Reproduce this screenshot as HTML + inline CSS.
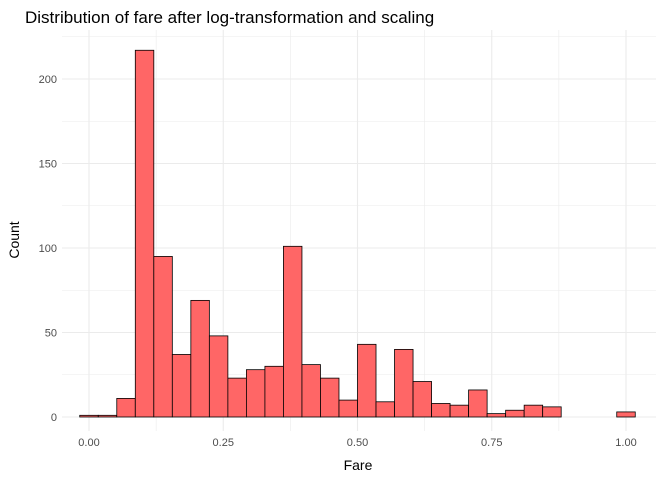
<!DOCTYPE html>
<html><head><meta charset="utf-8"><style>
body{margin:0;background:#fff;}
svg{display:block;font-family:"Liberation Sans",sans-serif;}
</style></head><body>
<svg id="chart" width="672" height="480">
<text x="25" y="23" font-size="17" fill="#000">Distribution of fare after log-transformation and scaling</text>
<g id="grid"></g><g id="bars"></g><g id="ticks"></g>
<text x="358" y="470" font-size="14" text-anchor="middle" fill="#000">Fare</text>
<text transform="translate(19,240) rotate(-90)" font-size="14" text-anchor="middle" fill="#000">Count</text>
</svg>
<script>
const counts=[1,1,11,217,95,37,69,48,23,28,30,101,31,23,10,43,9,40,21,8,7,16,2,4,7,6,0,0,0,3];
const xTicks=[0,0.25,0.5,0.75,1];
const xTickLabels=["0.00","0.25","0.50","0.75","1.00"];
const yTicks=[0,50,100,150,200];
const ns="http://www.w3.org/2000/svg";
const X=v=>89+v*537, Y=v=>417-v*1.69;
const L=62,R=656,T=30,B=431;
function mk(t,a,p){const e=document.createElementNS(ns,t);for(const k in a)e.setAttribute(k,a[k]);p.appendChild(e);return e;}
const grid=document.getElementById('grid'),bars=document.getElementById('bars'),ticks=document.getElementById('ticks');
for(let v=0;v<=225;v+=25){const l=mk('line',{x1:L,x2:R,y1:Y(v),y2:Y(v),stroke:'#ebebeb','stroke-width':v%50?0.6:1.1},grid);
}
for(let v=0;v<=1.01;v+=0.125){const l=mk('line',{x1:X(v),x2:X(v),y1:T,y2:B,stroke:'#ebebeb','stroke-width':Math.abs(v*4-Math.round(v*4))>0.01?0.6:1.1},grid);
}
const bw=1/(counts.length-1);
counts.forEach((c,i)=>{const x0=X(i*bw-bw/2),x1=X(i*bw+bw/2);
const r=mk('rect',{x:x0,y:Y(c),width:x1-x0,height:Y(0)-Y(c),fill:'#ff6666',stroke:'#000','stroke-width':0.8},bars);
});
xTicks.forEach((v,i)=>{const t=mk('text',{x:X(v),y:446,'font-size':11,fill:'#4d4d4d','text-anchor':'middle'},ticks);t.textContent=xTickLabels[i];
});
yTicks.forEach(v=>{const t=mk('text',{x:57,y:Y(v)+4,'font-size':11,fill:'#4d4d4d','text-anchor':'end'},ticks);t.textContent=v;
});
</script>
</body></html>
